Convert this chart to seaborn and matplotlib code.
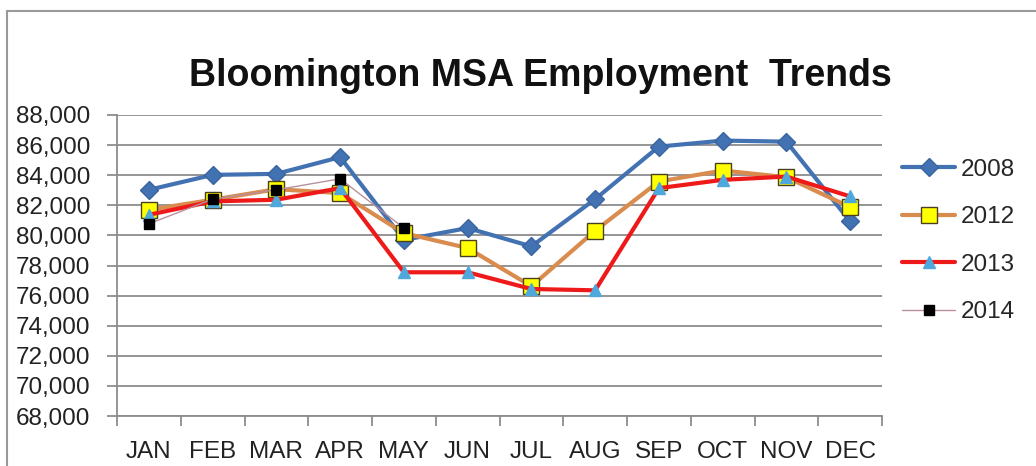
"""Bloomington MSA employment trends — seaborn line chart."""

import matplotlib
matplotlib.use("Agg")
import matplotlib.pyplot as plt
from matplotlib.lines import Line2D
from matplotlib.ticker import FuncFormatter, FixedLocator
import seaborn as sns
import numpy as np
import pandas as pd

months = ["JAN", "FEB", "MAR", "APR", "MAY", "JUN",
          "JUL", "AUG", "SEP", "OCT", "NOV", "DEC"]

emp_2008 = [83030, 84020, 84090, 85200, 79700, 80490,
            79270, 82410, 85900, 86300, 86230, 80930]
emp_2012 = [81700, 82370, 83070, 82810, 80150, 79160,
            76620, 80310, 83580, 84310, 83870, 81880]
emp_2013 = [81370, 82260, 82370, 83140, 77550, 77550,
            76440, 76350, 83140, 83690, 83910, 82590]
emp_2014 = [80770, 82410, 83030, 83760, 80490]

series = [
    ("2008", emp_2008),
    ("2012", emp_2012),
    ("2013", emp_2013),
    ("2014", emp_2014),
]

# 스타일 (엑셀 느낌)
styles = {
    "2008": dict(color="#4372B2", lw=3.0, marker="D", ms=9.5,
                 mfc="#4372B2", mec="#3A64A0", zorder=3),
    "2012": dict(color="#D98C4E", lw=3.0, marker="s", ms=11.5,
                 mfc="#FFFF00", mec="#4A4020", zorder=4),
    "2013": dict(color="#EE1A1A", lw=3.0, marker="^", ms=9,
                 mfc="#4FA8DC", mec="#4FA8DC", zorder=5),
    "2014": dict(color="#B8909E", lw=1.0, marker="s", ms=7.5,
                 mfc="#000000", mec="#000000", zorder=6),
}

sns.set_theme(style="white")
plt.rcParams["font.family"] = ["Liberation Sans", "DejaVu Sans"]

fig = plt.figure(figsize=(10.36, 4.66), dpi=100)
ax = fig.add_axes([117 / 1036, 50 / 466, 765 / 1036, 301 / 466])

for name, vals in series:
    df = pd.DataFrame({"x": np.arange(len(vals)), "y": vals})
    st = styles[name]
    sns.lineplot(data=df, x="x", y="y", ax=ax, color=st["color"],
                 linewidth=st["lw"], marker=st["marker"],
                 markersize=st["ms"], markerfacecolor=st["mfc"],
                 markeredgecolor=st["mec"], markeredgewidth=1.0,
                 zorder=st["zorder"], label=name)

handles, labels = ax.get_legend_handles_labels()
if ax.get_legend() is not None:
    ax.get_legend().remove()

ax.set_xlim(-0.5, 11.5)
ax.set_ylim(68000, 88000)
ax.set_yticks(np.arange(68000, 88001, 2000))
ax.yaxis.set_major_formatter(FuncFormatter(lambda v, p: f"{int(v):,}"))
ax.set_xticks(np.arange(12))
ax.set_xticklabels(months)
ax.xaxis.set_minor_locator(FixedLocator(np.arange(-0.5, 12, 1)))
ax.set_xlabel("")
ax.set_ylabel("")

ax.grid(axis="y", color="#8C8C8C", linewidth=1.3)
ax.grid(axis="x", visible=False)
ax.set_axisbelow(True)
for side in ["top", "right"]:
    ax.spines[side].set_visible(False)
for side in ["left", "bottom"]:
    ax.spines[side].set_color("#8C8C8C")
    ax.spines[side].set_linewidth(1.3)

ax.tick_params(axis="y", which="major", left=True, length=7, width=1.3,
               color="#8C8C8C", labelsize=17.5, labelcolor="#222222", pad=12)
ax.tick_params(axis="x", which="major", bottom=False, labelsize=17.5,
               labelcolor="#222222", pad=12)
ax.tick_params(axis="x", which="minor", bottom=True, length=7, width=1.3,
               color="#8C8C8C")

fig.legend(handles, labels, loc="center left",
           bbox_to_anchor=(902 / 1036, 1 - 241 / 466), frameon=False,
           fontsize=17.5, labelspacing=1.05, handlelength=2.2,
           handletextpad=0.2, borderpad=0, borderaxespad=0)

fig.text(540 / 1036, 1 - 76 / 466, "Bloomington MSA Employment  Trends",
         ha="center", va="center", fontsize=27, fontweight="bold",
         color="#111111")

# 바깥 테두리 (위, 왼쪽만 보임)
fig.add_artist(Line2D([7 / 1036, 1], [1 - 11 / 466, 1 - 11 / 466],
                      transform=fig.transFigure, color="#999999", lw=1.5))
fig.add_artist(Line2D([7 / 1036, 7 / 1036], [0, 1 - 11 / 466],
                      transform=fig.transFigure, color="#999999", lw=1.5))

fig.savefig("out.png", dpi=100)
plt.close(fig)
